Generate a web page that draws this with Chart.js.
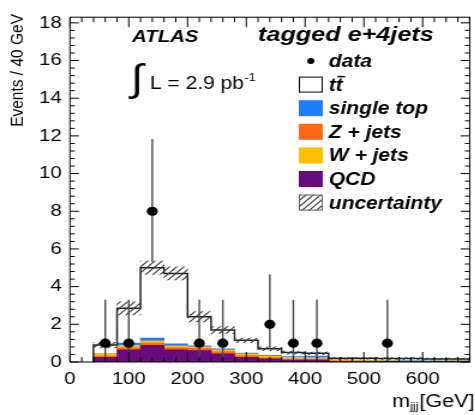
<!DOCTYPE html>
<html><head><meta charset="utf-8">
<script src="https://cdn.jsdelivr.net/npm/chart.js@4"></script>
<style>
html,body{margin:0;padding:0;background:#fff;overflow:hidden;}
#wrap{width:396px;height:415px;transform:scaleX(1.2);transform-origin:0 0;}
canvas{display:block;}
</style></head><body>
<div id="wrap"><canvas id="c" width="396" height="415"></canvas></div>
<script>
// ---- data (m_jjj, 40 GeV bins) ----
const binCenters = [60,100,140,180,220,260,300,340,380,420,460,500,540,580,620,660];
const binWidth = 40;
const qcd       = [0.25,0.65,0.89,0.65,0.60,0.43,0.25,0.17,0.10,0.10,0.04,0.03,0.03,0.02,0.02,0.02];
const zJets     = [0.06,0.10,0.11,0.10,0.12,0.12,0.09,0.05,0.05,0.05,0.02,0.02,0.01,0.01,0.01,0.01];
const wJets     = [0.10,0.14,0.13,0.11,0.08,0.10,0.09,0.10,0.10,0.08,0.03,0.03,0.02,0.02,0.02,0.03];
const singleTop = [0.03,0.11,0.14,0.10,0.06,0.05,0.04,0.03,0.04,0.08,0.02,0.02,0.02,0.03,0.01,0.01];
const ttbar     = [0.46,1.85,3.73,3.74,1.54,1.00,0.68,0.35,0.21,0.15,0.09,0.10,0.10,0.10,0.10,0.09];
const uncertainty = [0.15,0.35,0.35,0.35,0.27,0.18,0.12,0.10,0.08,0.07,0.05,0.05,0.05,0.05,0.05,0.05];
const dataCounts  = [1,1,8,0,1,1,0,2,1,1,0,0,1,0,0,0];
const dataErrLow  = [0.83,0.83,2.68,0,0.83,0.83,0,1.29,0.83,0.83,0,0,0.83,0,0,0];
const dataErrHigh = [2.30,2.30,3.84,0,2.30,2.30,0,2.64,2.30,2.30,0,0,2.30,0,0,0];
const xTicks = [0,100,200,300,400,500,600];
const yTicks = [0,2,4,6,8,10,12,14,16,18];
const legendLabels = ['data','tt','single top','Z + jets','W + jets','QCD','uncertainty'];

const FF = "'Liberation Sans', Arial, Helvetica, sans-serif";
const COL = {qcd:'#690a7d', z:'#ff6812', w:'#ffbf00', st:'#1e7cff'};

const total = binCenters.map((_,i)=>qcd[i]+zJets[i]+wJets[i]+singleTop[i]+ttbar[i]);

const canvas = document.getElementById('c');
const mainCtx = canvas.getContext('2d');
function makeHatch(){
  const c=document.createElement('canvas'); c.width=6; c.height=6;
  const g=c.getContext('2d');
  g.strokeStyle='#3a3a3a'; g.lineWidth=1.2;
  g.beginPath();
  g.moveTo(0,6); g.lineTo(6,0);
  g.moveTo(-1,1); g.lineTo(1,-1);
  g.moveTo(5,7); g.lineTo(7,5);
  g.stroke();
  return mainCtx.createPattern(c,'repeat');
}
const hatch = makeHatch();

const barCommon = {type:'bar', grouped:false, barPercentage:1, categoryPercentage:1, borderWidth:0, order:3, stack:'mc'};
const stackDs = (label, arr, color) => Object.assign({}, barCommon, {
  label, data: binCenters.map((x,i)=>({x, y:arr[i]})), backgroundColor: color
});

const outlinePts = [{x:binCenters[0]-binWidth/2, y:0}];
binCenters.forEach((c,i)=>{ outlinePts.push({x:c-binWidth/2,y:total[i]},{x:c+binWidth/2,y:total[i]}); });

const datasets = [
  stackDs('QCD', qcd, COL.qcd),
  stackDs('Z + jets', zJets, COL.z),
  stackDs('W + jets', wJets, COL.w),
  stackDs('single top', singleTop, COL.st),
  stackDs('tt', ttbar, '#ffffff'),
  Object.assign({}, barCommon, {label:'uncertainty', stack:'unc', order:1, backgroundColor:hatch,
    data: binCenters.map((x,i)=>({x, y:[total[i]-uncertainty[i], total[i]+uncertainty[i]]}))}),
  {type:'line', label:'outline', data: outlinePts, borderColor:'#222', borderWidth:1.5, pointRadius:0, fill:false, tension:0, stack:'outline', order:2},
  {type:'scatter', label:'data', data: binCenters.map((x,i)=>({x, y:dataCounts[i]})).filter(p=>p.y>0),
    pointRadius:4.6, pointBackgroundColor:'#000', pointBorderWidth:0, stack:'data', order:0}
];
const DATA_INDEX = datasets.length-1;

const errPlugin = {
  id:'errbars',
  beforeDatasetDraw(chart, args){
    if(args.index !== DATA_INDEX) return;
    const ctx=chart.ctx, xs=chart.scales.x, ys=chart.scales.y;
    ctx.save(); ctx.strokeStyle='#4a4a4a'; ctx.lineWidth=1.4;
    binCenters.forEach((c,i)=>{
      if(dataCounts[i]<=0) return;
      const px=xs.getPixelForValue(c);
      ctx.beginPath();
      ctx.moveTo(px, ys.getPixelForValue(dataCounts[i]-dataErrLow[i]));
      ctx.lineTo(px, ys.getPixelForValue(dataCounts[i]+dataErrHigh[i]));
      ctx.stroke();
    });
    ctx.restore();
  }
};

const framePlugin = {
  id:'frame',
  afterDraw(chart){
    const ctx=chart.ctx, a=chart.chartArea, xs=chart.scales.x, ys=chart.scales.y;
    ctx.save();
    ctx.strokeStyle='#000'; ctx.lineWidth=1;
    ctx.strokeRect(a.left, a.top, a.right-a.left, a.bottom-a.top);
    ctx.beginPath();
    // x ticks
    for(let v=0; v<=xs.max+1e-6; v+=20){
      const px=xs.getPixelForValue(v);
      const L = (v%100===0)?10:5;
      ctx.moveTo(px,a.bottom); ctx.lineTo(px,a.bottom-L);
      ctx.moveTo(px,a.top); ctx.lineTo(px,a.top+L);
    }
    // y ticks
    for(let k=0; k*0.4<=ys.max+1e-6; k++){
      const v=k*0.4; const py=ys.getPixelForValue(v);
      const L = (k%5===0)?7.5:4;
      ctx.moveTo(a.left,py); ctx.lineTo(a.left+L,py);
      ctx.moveTo(a.right,py); ctx.lineTo(a.right-L,py);
    }
    ctx.stroke();

    // texts
    ctx.fillStyle='#000';
    ctx.textBaseline='middle'; ctx.textAlign='left';
    ctx.font='italic bold 17px '+FF; ctx.fillText('ATLAS',110,37);
    ctx.font='italic bold 21px '+FF; ctx.fillText('tagged e+4jets',215,35);
    ctx.font="200 38px 'DejaVu Sans', sans-serif"; ctx.fillText('\u222B',109,81);
    ctx.font='17.5px '+FF; ctx.fillText('L = 2.9 pb',125,84);
    const wl=ctx.measureText('L = 2.9 pb').width;
    ctx.font='10.5px '+FF; ctx.fillText('-1',125+wl+0.5,78);

    // legend
    const bx=249, bw=20, bh=16, tx=274;
    legendLabels.forEach((lab,i)=>{
      const yc=61+i*23.6;
      if(lab==='data'){
        ctx.beginPath(); ctx.arc(bx+bw/2,yc,3,0,Math.PI*2); ctx.fillStyle='#000'; ctx.fill();
      } else {
        let fillC;
        if(lab==='tt') fillC='#fff';
        else if(lab==='single top') fillC=COL.st;
        else if(lab==='Z + jets') fillC=COL.z;
        else if(lab==='W + jets') fillC=COL.w;
        else if(lab==='QCD') fillC=COL.qcd;
        else fillC=hatch;
        ctx.fillStyle=fillC; ctx.fillRect(bx,yc-bh/2,bw,bh);
        if(lab==='tt' || lab==='uncertainty'){
          ctx.strokeStyle = lab==='tt' ? '#000' : '#666'; ctx.lineWidth=1;
          ctx.strokeRect(bx+0.5,yc-bh/2+0.5,bw-1,bh-1);
        }
      }
      ctx.fillStyle='#000';
      ctx.font='italic bold 17.5px '+FF;
      ctx.textBaseline='alphabetic';
      ctx.fillText(lab,tx,yc+6);
      if(lab==='tt'){
        const wt=ctx.measureText('t').width;
        ctx.strokeStyle='#000'; ctx.lineWidth=1.5;
        ctx.beginPath(); ctx.moveTo(tx+wt+1.5,yc-8); ctx.lineTo(tx+2*wt+2,yc-8); ctx.stroke();
      }
      ctx.textBaseline='middle';
    });

    // x title
    ctx.font='18px '+FF; const wm=ctx.measureText('m').width, wg=ctx.measureText('[GeV]').width;
    ctx.font='11px '+FF; const wj=ctx.measureText('jjj').width;
    let x0=395-(wm+wj+wg);
    ctx.font='18px '+FF; ctx.fillText('m',x0,402);
    ctx.font='11px '+FF; ctx.fillText('jjj',x0+wm,407);
    ctx.font='18px '+FF; ctx.fillText('[GeV]',x0+wm+wj+0.5,402);

    // y title
    ctx.save();
    ctx.translate(15,14); ctx.rotate(-Math.PI/2);
    ctx.textAlign='right'; ctx.font='15.5px '+FF;
    ctx.fillText('Events / 40 GeV',0,0);
    ctx.restore();
    ctx.restore();
  }
};

new Chart(canvas, {
  type:'bar',
  data:{datasets},
  options:{
    responsive:false, animation:false, devicePixelRatio:1,
    layout:{padding:{top:10,right:2.67,left:0,bottom:0}},
    plugins:{legend:{display:false}, tooltip:{enabled:false}},
    scales:{
      x:{type:'linear', min:0, max:680, stacked:false, offset:false,
        grid:{display:false, drawTicks:false, offset:false}, border:{display:false},
        ticks:{font:{family:FF,size:17}, color:'#000', padding:7, maxRotation:0, autoSkip:false},
        afterBuildTicks:s=>{s.ticks=xTicks.map(v=>({value:v}));},
        afterFit:s=>{s.height=53;}
      },
      y:{type:'linear', min:0, max:18.3, stacked:true,
        grid:{display:false, drawTicks:false}, border:{display:false},
        ticks:{font:{family:FF,size:17}, color:'#000', padding:7},
        afterBuildTicks:s=>{s.ticks=yTicks.map(v=>({value:v}));},
        afterFit:s=>{s.width=58.33;}
      }
    }
  },
  plugins:[errPlugin, framePlugin]
});
</script>
</body></html>
